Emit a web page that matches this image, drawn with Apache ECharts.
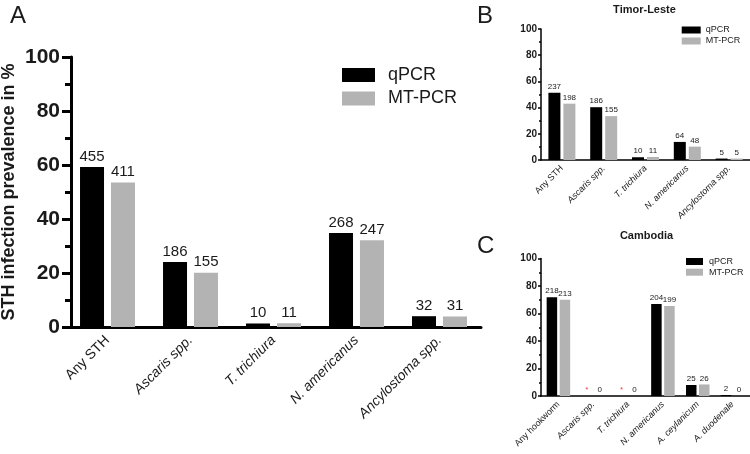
<!DOCTYPE html>
<html>
<head>
<meta charset="utf-8">
<script src="https://cdn.jsdelivr.net/npm/echarts@6/dist/echarts.min.js"></script>
<style>html,body{margin:0;padding:0;background:#fff}#c{width:750px;height:454px}</style>
</head>
<body>
<div id="c"></div>
<script>
// ---- Panel A (all) ----
var catsA = ['Any STH', 'Ascaris spp.', 'T. trichiura', 'N. americanus', 'Ancylostoma spp.'];
var qpcrA = [59.3, 24.1, 1.3, 34.8, 4.0];
var mtpcrA = [53.5, 20.1, 1.4, 32.1, 3.9];
var qpcrCountA = ['455', '186', '10', '268', '32'];
var mtpcrCountA = ['411', '155', '11', '247', '31'];
// ---- Panel B (Timor-Leste) ----
var catsB = ['Any STH', 'Ascaris spp.', 'T. trichiura', 'N. americanus', 'Ancylostoma spp.'];
var qpcrB = [51.4, 40.3, 2.1, 13.8, 1.1];
var mtpcrB = [43.0, 33.5, 2.3, 10.2, 1.1];
var qpcrCountB = ['237', '186', '10', '64', '5'];
var mtpcrCountB = ['198', '155', '11', '48', '5'];
// ---- Panel C (Cambodia) ----
var catsC = ['Any hookworm', 'Ascaris spp.', 'T. trichiura', 'N. americanus', 'A. ceylanicum', 'A. duodenale'];
var qpcrC = [71.8, 0, 0, 67.0, 8.0, 0.7];
var mtpcrC = [70.0, 0, 0, 65.5, 8.4, 0];
var qpcrCountC = ['218', '*', '*', '204', '25', '2'];
var mtpcrCountC = ['213', '0', '0', '199', '26', '0'];
var yTicks = [0, 20, 40, 60, 80, 100];

var FONT = '"Liberation Sans", Arial, sans-serif';
var BLACK = '#000000', GRAY = '#b3b3b3', TXT = '#1a1a1a';
var plain = ['Any STH', 'Any hookworm'];

function catFmt(v) { return plain.indexOf(v) >= 0 ? v : '{i|' + v + '}'; }

function xAxis(idx, cats, fs, margin, lw, tl) {
  return {
    type: 'category', gridIndex: idx, data: cats,
    axisLine: { lineStyle: { color: BLACK, width: lw } },
    axisTick: { alignWithLabel: true, length: tl, lineStyle: { color: BLACK, width: lw } },
    axisLabel: { rotate: 45, margin: margin, color: TXT, fontFamily: FONT, fontSize: fs,
      formatter: catFmt, rich: { i: { fontStyle: 'italic', fontFamily: FONT, fontSize: fs, color: TXT } } },
    splitLine: { show: false }
  };
}
function yAxis(idx, fs, margin, lw, tl, mtl, extra) {
  var a = {
    type: 'value', gridIndex: idx, min: yTicks[0], max: yTicks[yTicks.length - 1], interval: yTicks[1] - yTicks[0],
    axisLine: { show: true, lineStyle: { color: BLACK, width: lw } },
    axisTick: { show: true, length: tl, lineStyle: { color: BLACK, width: lw } },
    minorTick: { show: true, splitNumber: 2, length: mtl, lineStyle: { color: BLACK, width: lw } },
    axisLabel: { margin: margin, color: TXT, fontFamily: FONT, fontSize: fs, fontWeight: 'bold' },
    splitLine: { show: false }
  };
  for (var k in extra) a[k] = extra[k];
  return a;
}
function series(name, idx, data, counts, color, bw, gap, fs, dist) {
  return {
    name: name, type: 'bar', xAxisIndex: idx, yAxisIndex: idx, data: data,
    barWidth: bw, barGap: gap, itemStyle: { color: color },
    label: { show: true, position: 'top', distance: dist, fontFamily: FONT, fontSize: fs, color: TXT,
      formatter: function (p) { var c = counts[p.dataIndex]; return c === '*' ? '{r|*}' : c; },
      rich: { r: { color: '#e8414a', fontSize: fs, fontFamily: FONT } } }
  };
}

var chart = echarts.init(document.getElementById('c'), null, { renderer: 'canvas' });
chart.setOption({
  backgroundColor: '#ffffff',
  animation: false,
  grid: [
    { left: 66, width: 415, top: 57, height: 270, outerBoundsMode: 'none', containLabel: false },
    { left: 541, width: 209, top: 29, height: 131, outerBoundsMode: 'none', containLabel: false },
    { left: 541, width: 209, top: 258.5, height: 137.5, outerBoundsMode: 'none', containLabel: false }
  ],
  xAxis: [
    xAxis(0, catsA, 14, 11, 3, 8),
    xAxis(1, catsB, 9, 7, 1.5, 3),
    xAxis(2, catsC, 9, 7, 1.5, 3)
  ],
  yAxis: [
    yAxis(0, 21, 11, 3, 9, 6, { offset: -5, name: 'STH infection prevalence in %', nameLocation: 'middle', nameGap: 53,
      nameMoveOverlap: false,
      nameTextStyle: { fontFamily: FONT, fontSize: 18, fontWeight: 'bold', color: TXT } }),
    yAxis(1, 10, 4, 1.5, 3, 2, {}),
    yAxis(2, 10, 4, 1.5, 3, 2, {})
  ],
  legend: [
    { data: ['qPCR', 'MT-PCR'], orient: 'vertical', left: 342, top: 66, padding: 0, itemWidth: 33, itemHeight: 14, itemGap: 5.5,
      icon: 'rect', textStyle: { fontFamily: FONT, fontSize: 18, lineHeight: 18, color: TXT, padding: [0, 0, 0, 8] } },
    { data: ['qPCR', 'MT-PCR'], orient: 'vertical', left: 681.7, top: 25.5, padding: 0, itemWidth: 19, itemHeight: 7, itemGap: 2,
      icon: 'rect', textStyle: { fontFamily: FONT, fontSize: 9, lineHeight: 9, color: TXT } },
    { data: ['qPCR', 'MT-PCR'], orient: 'vertical', left: 686, top: 257, padding: 0, itemWidth: 17, itemHeight: 7, itemGap: 1.7,
      icon: 'rect', textStyle: { fontFamily: FONT, fontSize: 9, lineHeight: 9, color: TXT, padding: [0, 0, 0, 1] } }
  ],
  graphic: [
    { type: 'text', x: 10, y: 16.5, style: { text: 'A', font: '24px ' + FONT, fill: TXT, textVerticalAlign: 'middle' } },
    { type: 'text', x: 477, y: 16, style: { text: 'B', font: '24px ' + FONT, fill: TXT, textVerticalAlign: 'middle' } },
    { type: 'text', x: 477, y: 246, style: { text: 'C', font: '24px ' + FONT, fill: TXT, textVerticalAlign: 'middle' } },
    { type: 'text', x: 644.5, y: 10, style: { text: 'Timor-Leste', font: 'bold 11px ' + FONT, fill: TXT, textAlign: 'center', textVerticalAlign: 'middle' } },
    { type: 'text', x: 646.5, y: 236, style: { text: 'Cambodia', font: 'bold 11px ' + FONT, fill: TXT, textAlign: 'center', textVerticalAlign: 'middle' } }
  ],
  series: [
    series('qPCR', 0, qpcrA, qpcrCountA, BLACK, 24, '29%', 15, 3),
    series('MT-PCR', 0, mtpcrA, mtpcrCountA, GRAY, 24, '29%', 15, 3),
    series('qPCR', 1, qpcrB, qpcrCountB, BLACK, 12, '25%', 8, 2),
    series('MT-PCR', 1, mtpcrB, mtpcrCountB, GRAY, 12, '25%', 8, 2),
    series('qPCR', 2, qpcrC, qpcrCountC, BLACK, 10.5, '24%', 8, 2),
    series('MT-PCR', 2, mtpcrC, mtpcrCountC, GRAY, 10.5, '24%', 8, 2)
  ]
});
</script>
</body>
</html>
